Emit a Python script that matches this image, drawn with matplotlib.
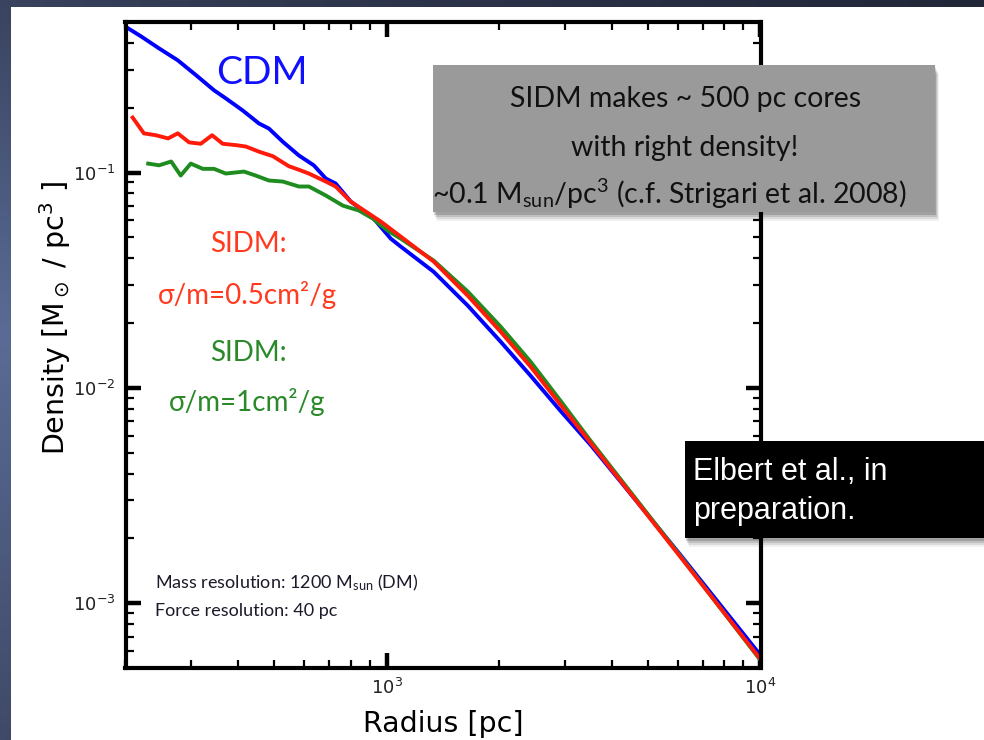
import numpy as np
import matplotlib
matplotlib.use('Agg')
import matplotlib.pyplot as plt
from matplotlib.patches import Rectangle

# ---------------- data ----------------
cdm_r = [203, 220, 246, 276, 309, 345, 371, 412, 455, 484, 527, 582, 638, 687, 730,
         801, 923, 1025, 1090, 1335, 1647, 2018, 2427, 2918, 3512, 6110, 10000]
cdm_rho = [0.468, 0.429, 0.377, 0.332, 0.283, 0.241, 0.221, 0.194, 0.169, 0.160, 0.139,
           0.120, 0.108, 0.0938, 0.0889, 0.0733, 0.0611, 0.0493, 0.0453, 0.0346,
           0.0241, 0.01637, 0.01137, 0.00781, 0.00543, 0.001673, 0.000573]

sidm05_r = [209, 224, 241, 260, 276, 296, 318, 341, 364, 395, 420, 455, 496, 547, 582,
            619, 687, 730, 801, 964, 1090, 1335, 1647, 2018, 2427, 2918, 3512, 6110,
            10000]
sidm05_rho = [0.180, 0.152, 0.149, 0.144, 0.152, 0.138, 0.136, 0.149, 0.136, 0.134,
              0.132, 0.125, 0.119, 0.107, 0.103, 0.0989, 0.0908, 0.0861, 0.0733, 0.0592,
              0.0504, 0.0386, 0.0268, 0.01822, 0.01253, 0.00834, 0.00555, 0.001637,
              0.000549]

sidm1_r = [230, 246, 265, 281, 299, 322, 345, 371, 415, 446, 484, 527, 582, 619, 687,
           763, 842, 918, 1006, 1090, 1335, 1647, 2018, 2427, 2918, 3512, 6110, 10000]
sidm1_rho = [0.110, 0.108, 0.1125, 0.0968, 0.110, 0.104, 0.104, 0.0989, 0.101, 0.0968,
             0.0918, 0.0908, 0.0861, 0.0861, 0.0782, 0.0702, 0.0666, 0.0611, 0.0537,
             0.0493, 0.0390, 0.0280, 0.01922, 0.01321, 0.00870, 0.00567, 0.001654,
             0.000543]

x_limits = (200, 10000)
y_limits = (5e-4, 0.5)

W, H = 984, 740
fig = plt.figure(figsize=(W / 100, H / 100), dpi=100)


def fx(px):
    return px / W


def fy(py):
    return 1 - py / H


# ---------------- slide background ----------------
bg = fig.add_axes([0, 0, 1, 1], zorder=-10)
bg.set_axis_off()
ny, nx = 60, 80
yy = np.linspace(0, 1, ny)[:, None]
xx = np.linspace(0, 1, nx)[None, :]
top_c = np.array([0x3a, 0x44, 0x60]) / 255
mid_c = np.array([0x5a, 0x6c, 0x96]) / 255
bot_c = np.array([0x40, 0x4a, 0x68]) / 255
right_c = np.array([0x22, 0x27, 0x38]) / 255
wy = np.clip(yy / 0.45, 0, 1)
wy2 = np.clip((yy - 0.45) / 0.55, 0, 1)
left = np.where(yy[..., None] < 0.45,
                top_c * (1 - wy[..., None]) + mid_c * wy[..., None],
                mid_c * (1 - wy2[..., None]) + bot_c * wy2[..., None])
t = xx[..., None] ** 0.7
img = left * (1 - t) + right_c * t
bg.imshow(img, extent=(0, 1, 0, 1), aspect='auto', interpolation='bilinear',
          transform=bg.transAxes)
bg.add_patch(Rectangle((fx(11), 0), 1 - fx(11), fy(7), transform=bg.transAxes,
                       facecolor='white', edgecolor='none'))
bg.set_xlim(0, 1)
bg.set_ylim(0, 1)

# ---------------- main axes ----------------
ax = fig.add_axes([fx(125.5), fy(668), fx(760.5) - fx(125.5), fy(22) - fy(668)])
ax.set_facecolor('none')
ax.plot(cdm_r, cdm_rho, color='#0000ff', lw=2.8, solid_joinstyle='round')
ax.plot(sidm1_r, sidm1_rho, color='#1e8c1e', lw=2.8, solid_joinstyle='round')
ax.plot(sidm05_r, sidm05_rho, color='#ff1a0a', lw=2.8, solid_joinstyle='round')
ax.set_xscale('log')
ax.set_yscale('log')
ax.set_xlim(*x_limits)
ax.set_ylim(*y_limits)
for s in ax.spines.values():
    s.set_linewidth(3)
ax.tick_params(which='major', direction='in', length=11, width=3.2, top=True,
               right=True, labelsize=13, pad=7, colors='black')
ax.tick_params(which='minor', direction='in', length=6, width=1.6, top=True,
               right=True)
for lab in ax.get_xticklabels() + ax.get_yticklabels():
    lab.set_color('#222222')

ax.set_xlabel('Radius [pc]', fontsize=20.5, labelpad=9)
fig.text(fx(55), fy(318), r'Density [M$_\odot$ / pc$^3$ ]', rotation=90,
         ha='center', va='center', fontsize=20.5)

# curve labels
lato = ['Lato', 'DejaVu Sans']
fig.text(fx(262), fy(73), 'CDM', color='#1010ff', fontsize=28, family=lato,
         ha='center', va='center')
fig.text(fx(248), fy(244), 'SIDM:', color='#ff3a1f', fontsize=20, family=lato,
         ha='center', va='center')
fig.text(fx(247), fy(295), 'σ/m=0.5cm²/g', color='#ff3a1f', fontsize=20,
         family=lato, ha='center', va='center')
fig.text(fx(248), fy(353), 'SIDM:', color='#2a8a2a', fontsize=20, family=lato,
         ha='center', va='center')
fig.text(fx(247), fy(402), 'σ/m=1cm²/g', color='#2a8a2a', fontsize=20,
         family=lato, ha='center', va='center')

fig.text(fx(155), fy(588), r'Mass resolution: 1200 M$\mathregular{_{sun}}$ (DM)',
         fontsize=13, family='Lato', color='#1a1a2a', ha='left', va='baseline')
fig.text(fx(155), fy(616), 'Force resolution: 40 pc', fontsize=13,
         family='Lato', color='#1a1a2a', ha='left', va='baseline')


# ---------------- call-out boxes ----------------
def shadow_box(x0, y0, x1, y1, color):
    for k, a in zip([9, 7, 5, 3], [0.06, 0.09, 0.12, 0.16]):
        fig.add_artist(Rectangle((fx(x0 + k * 0.4), fy(y1 + k)),
                                 fx(x1 - x0), fy(y0) - fy(y1),
                                 transform=fig.transFigure, facecolor='black',
                                 edgecolor='none', alpha=a, zorder=8))
    fig.add_artist(Rectangle((fx(x0), fy(y1)), fx(x1 - x0), fy(y0) - fy(y1),
                             transform=fig.transFigure, facecolor=color,
                             edgecolor='none', zorder=9))


shadow_box(433, 65, 935, 212, '#9a9a9a')
fig.text(fx(686), fy(107), 'SIDM makes ~ 500 pc cores', fontsize=20.5, family='Lato',
         color='#111111', ha='center', va='baseline', zorder=10)
fig.text(fx(685), fy(156), 'with right density!', fontsize=20.5, family='Lato',
         color='#111111', ha='center', va='baseline', zorder=10)
fig.text(fx(669), fy(204),
         r'~0.1 M$\mathregular{_{sun}}$/pc$\mathregular{^3}$ (c.f. Strigari et al. 2008)',
         fontsize=20.5, family='Lato', color='#111111', ha='center', va='baseline',
         zorder=10)

shadow_box(685, 441, 990, 538, 'black')
fig.text(fx(693), fy(480), 'Elbert et al., in', fontsize=22, family='Liberation Sans',
         color='white', ha='left', va='baseline', zorder=10)
fig.text(fx(693), fy(519), 'preparation.', fontsize=22, family='Liberation Sans',
         color='white', ha='left', va='baseline', zorder=10)

fig.savefig('out.png', dpi=100)
